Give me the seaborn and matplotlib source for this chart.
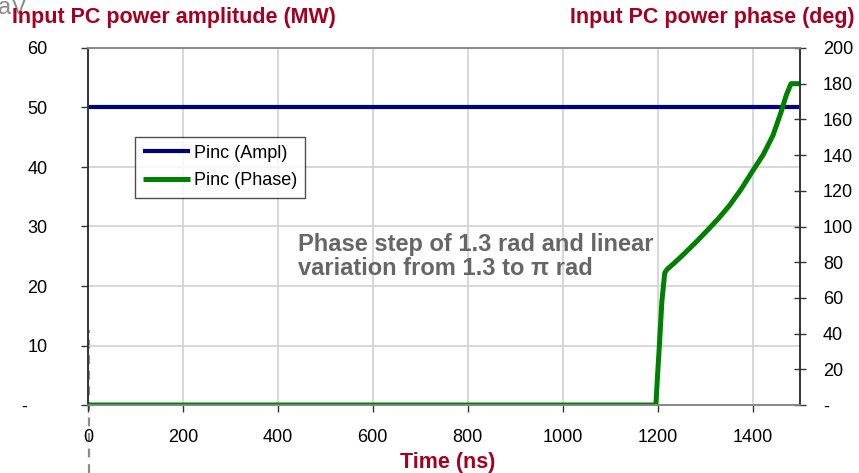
import matplotlib
matplotlib.use("Agg")
import matplotlib.pyplot as plt
import seaborn as sns
import pandas as pd

# ---- data ----
ampl_time = [0, 1500]
ampl_mw = [50, 50]

phase_time = [0, 1196, 1197, 1200, 1203, 1206, 1209, 1212, 1215, 1220, 1235, 1253,
              1280, 1309, 1330, 1352, 1375, 1400, 1422, 1443, 1460, 1471, 1481, 1500]
phase_deg = [0, 0, 3, 17, 30, 44, 58, 66, 74, 76, 79.5, 84,
             91, 99, 105, 112, 120.5, 131, 140, 151, 164, 173.5, 180, 180]

x_ticks = [0, 200, 400, 600, 800, 1000, 1200, 1400]
left_ticks = [0, 10, 20, 30, 40, 50, 60]
left_labels = ["-    ", "10", "20", "30", "40", "50", "60"]
right_ticks = [0, 20, 40, 60, 80, 100, 120, 140, 160, 180, 200]
right_labels = ["-", "20", "40", "60", "80", "100", "120", "140", "160", "180", "200"]

title_left = "Input PC power amplitude (MW)"
title_right = "Input PC power phase (deg)"
x_label = "Time (ns)"
note = "Phase step of 1.3 rad and linear\nvariation from 1.3 to \u03c0 rad"

df_a = pd.DataFrame({"t": ampl_time, "v": ampl_mw})
df_p = pd.DataFrame({"t": phase_time, "v": phase_deg})

sns.set_style("white")
plt.rcParams["font.family"] = ["Liberation Sans", "DejaVu Sans"]

RED = "#A50021"
NAVY = "#000080"
GREEN = "#008000"
GRID = "#d4d4d4"

fig = plt.figure(figsize=(8.59, 4.73), dpi=100)
ax = fig.add_axes([88 / 859, 1 - 405 / 473, 712 / 859, 357 / 473])
ax2 = ax.twinx()

sns.lineplot(data=df_a, x="t", y="v", ax=ax, color=NAVY, lw=3.0,
             label="Pinc (Ampl)", legend=False, solid_capstyle="butt")
sns.lineplot(data=df_p, x="t", y="v", ax=ax2, color=GREEN, lw=3.6,
             label="Pinc (Phase)", legend=False, solid_capstyle="butt")

ax.set_xlim(0, 1500)
ax.set_ylim(0, 60)
ax2.set_ylim(0, 200)
ax.set_xticks(x_ticks)
ax.set_xticklabels([str(v) for v in x_ticks])
ax.set_yticks(left_ticks)
ax.set_yticklabels(left_labels)
ax2.set_yticks(right_ticks)
ax2.set_yticklabels(right_labels)

ax.grid(True, color=GRID, lw=1.3)
ax.set_axisbelow(True)
ax.set_xlabel("")
ax.set_ylabel("")
ax2.set_ylabel("")

ax.tick_params(axis="y", left=True, length=5, width=1, pad=24, labelsize=13,
               color="#333333", labelcolor="black")
ax.tick_params(axis="x", bottom=True, length=5, width=1, pad=12, labelsize=13,
               color="#333333", labelcolor="black")
ax2.tick_params(axis="y", right=True, direction="inout", length=9, width=1, pad=12,
                labelsize=13, color="#333333", labelcolor="black")

for a in (ax, ax2):
    a.spines["left"].set_color("#333333")
    a.spines["right"].set_color("#333333")
    a.spines["top"].set_color("#888888")
    a.spines["bottom"].set_color("#888888")
    for s in a.spines.values():
        s.set_linewidth(1.2)

# legend
h1, l1 = ax.get_legend_handles_labels()
h2, l2 = ax2.get_legend_handles_labels()
leg = ax.legend(h1 + h2, l1 + l2, loc="upper left", bbox_to_anchor=(0.066, 0.752),
                borderaxespad=0, fontsize=13, frameon=True, fancybox=False,
                handlelength=2.6, handletextpad=0.2, borderpad=0.45, labelspacing=0.6)
leg.get_frame().set_edgecolor("#222222")
leg.get_frame().set_linewidth(1.0)
for t in leg.get_texts():
    t.set_color("black")
leg.set_zorder(10)

# annotation
ax.text(442, 24.9, note, fontsize=17, fontweight="bold", color="#666666",
        ha="left", va="center", linespacing=1.05, zorder=5)

# axis titles
fig.text(12 / 859, 1 - 18 / 473, title_left, fontsize=15.5, fontweight="bold",
         color=RED, ha="left", va="center")
fig.text(855 / 859, 1 - 18 / 473, title_right, fontsize=15.5, fontweight="bold",
         color=RED, ha="right", va="center")
fig.text(448 / 859, 1 - 462 / 473, x_label, fontsize=15.5, fontweight="bold",
         color=RED, ha="center", va="center")
fig.text(-0.002, 1 - 14 / 473, "aV", fontsize=17, color="#8c8c8c",
         ha="left", va="baseline", zorder=0)

# dashed guide line below the origin
ax.axvline(3, ymin=-0.19, ymax=0.21, clip_on=False, color="#8c8c8c", lw=1.6,
           ls=(0, (4, 3)), zorder=0)

fig.savefig("out.png", dpi=100)
